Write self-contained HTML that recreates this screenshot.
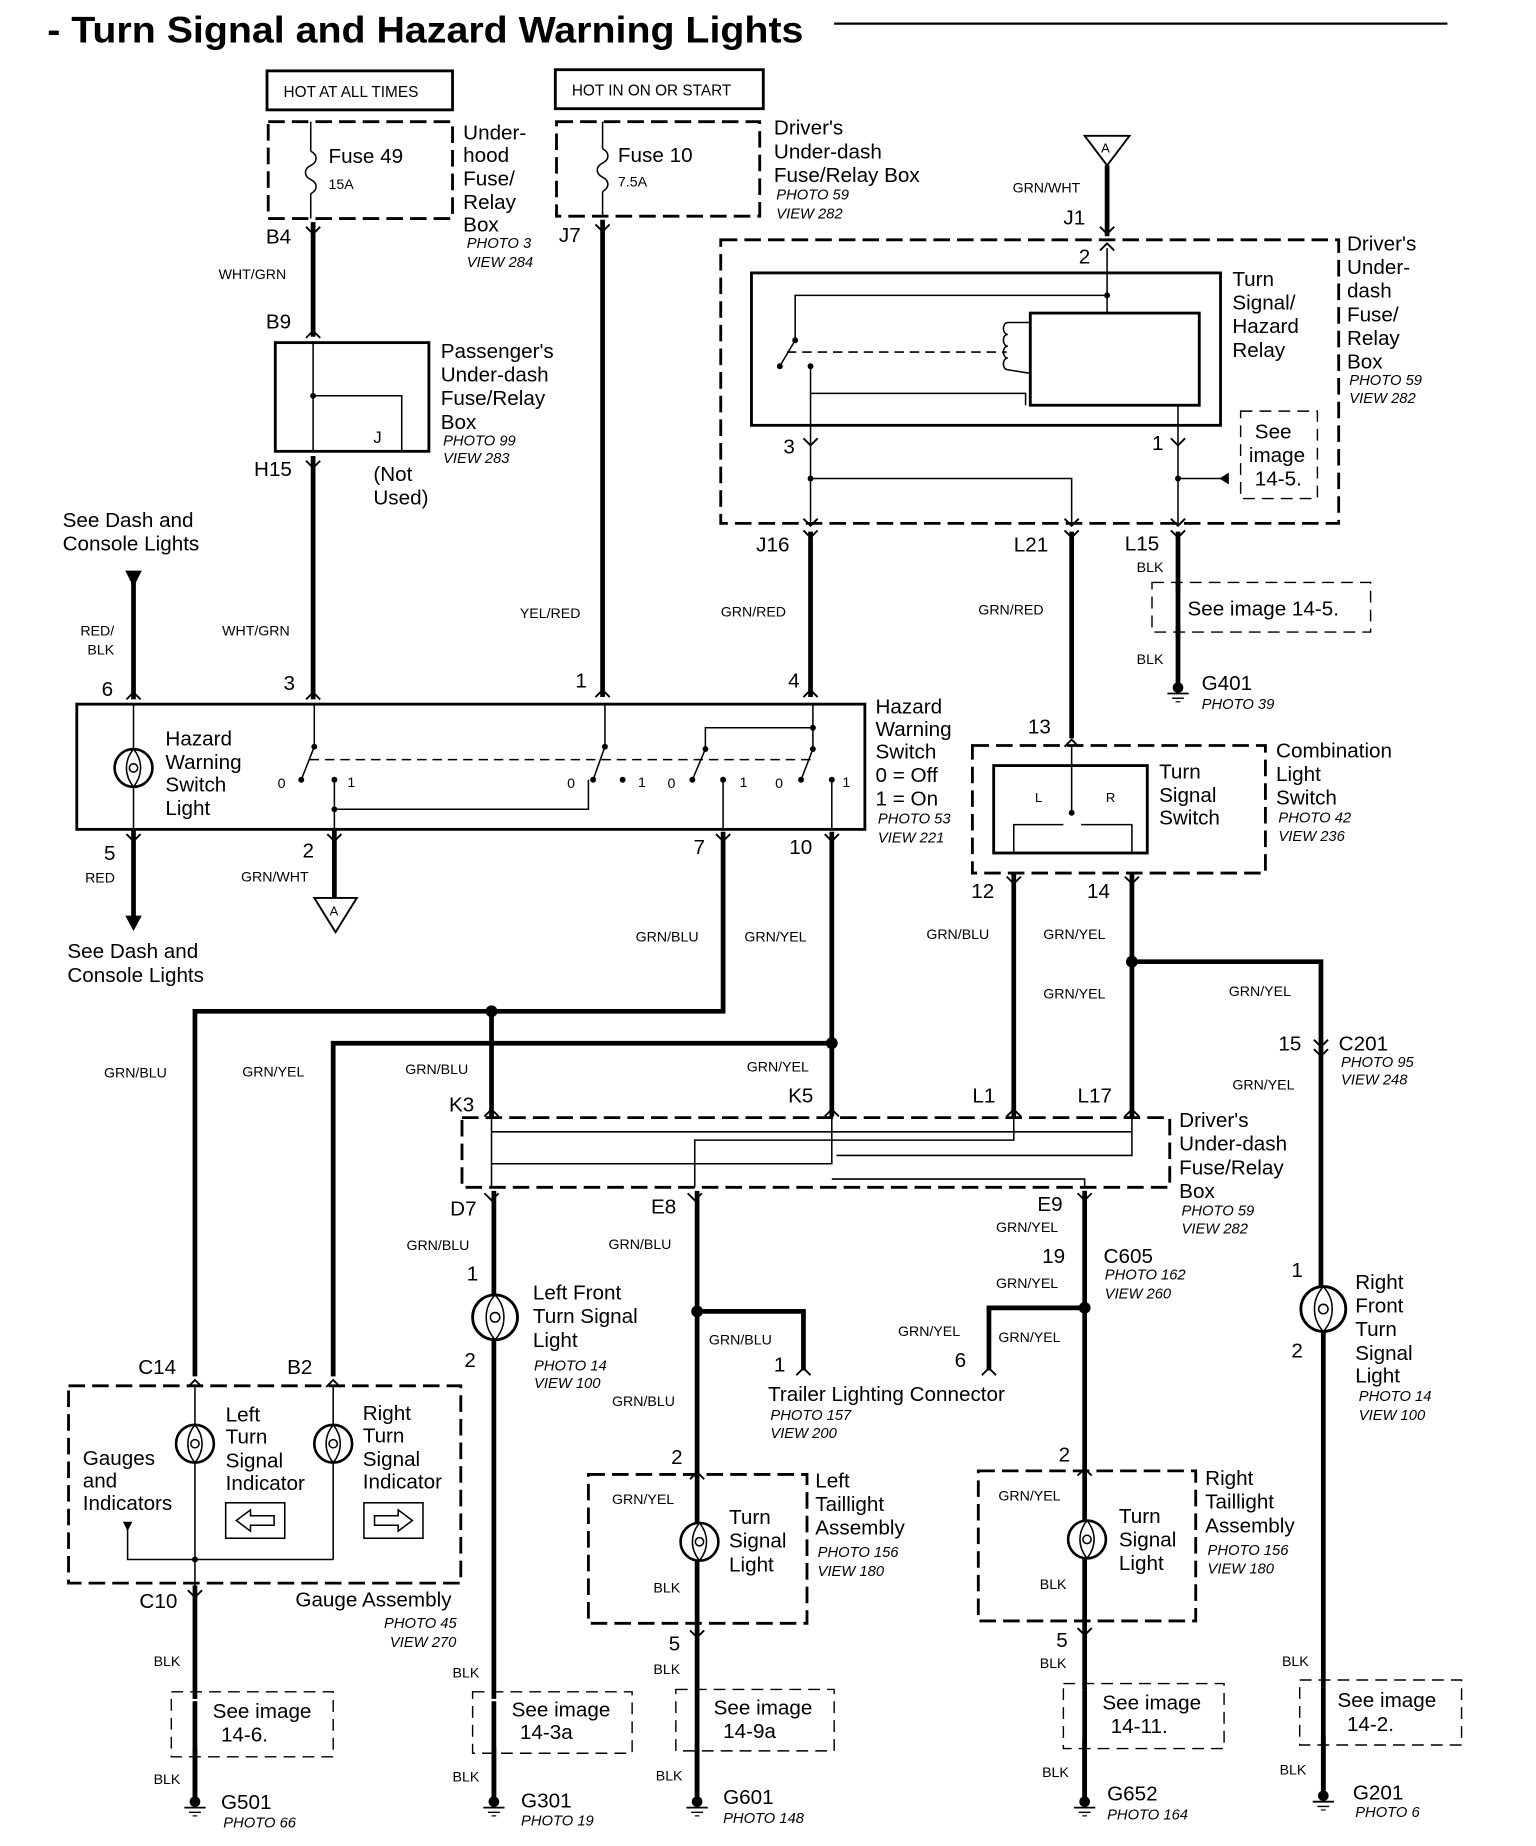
<!DOCTYPE html>
<html><head><meta charset="utf-8"><style>
html,body{margin:0;padding:0;background:#fff}
svg{display:block}
text{font-family:"Liberation Sans",sans-serif;fill:#000}
.b{font-size:17.5px}
.s{font-size:12px}
.p{font-size:12.5px;font-style:italic}
.w{stroke:#000;stroke-width:4;fill:none}
.t{stroke:#000;stroke-width:1.3;fill:none}
.d{stroke:#000;stroke-width:2.4;fill:none;stroke-dasharray:14 6}
.dt{stroke:#000;stroke-width:1.2;fill:none;stroke-dasharray:10 6}
.r{stroke:#000;stroke-width:2.4;fill:none}
</style></head><body>
<svg width="1536" height="1846" viewBox="0 0 1300 1562.5" preserveAspectRatio="none" xmlns="http://www.w3.org/2000/svg">
<defs>
<g id="gnd"><circle cx="0" cy="0" r="4.5" fill="#000"/><line x1="-9" y1="5" x2="9" y2="5" stroke="#000" stroke-width="1.5"/><line x1="-5" y1="9" x2="5" y2="9" stroke="#000" stroke-width="1.2"/><line x1="-2" y1="12" x2="2" y2="12" stroke="#000" stroke-width="1"/></g>
<g id="lamp"><circle cx="0" cy="0" r="19" fill="#fff" stroke="#000" stroke-width="2.4"/><path d="M0,-19 C-10,-8 -10,8 0,19 M0,-19 C10,-8 10,8 0,19" class="t"/><circle cx="0" cy="0" r="4" class="t"/></g>
<g id="slamp"><circle cx="0" cy="0" r="16" fill="#fff" stroke="#000" stroke-width="2.2"/><path d="M0,-16 C-8,-6 -8,6 0,16 M0,-16 C8,-6 8,6 0,16" class="t"/><circle cx="0" cy="0" r="3.5" class="t"/></g>
<path id="up" d="M-6,6 L0,0 L6,6" stroke="#000" stroke-width="1.6" fill="none"/>
<path id="dn" d="M-6,-6 L0,0 L6,-6" stroke="#000" stroke-width="1.6" fill="none"/>
</defs>

<!-- title -->
<text x="40" y="36" textLength="640" lengthAdjust="spacingAndGlyphs" style="font-size:31px;font-weight:bold">- Turn Signal and Hazard Warning Lights</text>
<line x1="706" y1="20" x2="1225" y2="20" stroke="#000" stroke-width="2"/>

<!-- HOT boxes -->
<rect x="226" y="60" width="157" height="33" class="r" stroke-width="2"/>
<text x="240" y="82" style="font-size:13px">HOT AT ALL TIMES</text>
<rect x="470" y="59" width="176" height="33" class="r" stroke-width="2"/>
<text x="484" y="81" style="font-size:13px">HOT IN ON OR START</text>

<!-- fuse 49 -->
<rect x="227" y="103" width="156" height="82" class="d"/>
<line x1="263" y1="103" x2="263" y2="128" class="t"/>
<path d="M263,128 c6,3 6,9 0,12 c-6,3 -6,9 0,12 c6,3 6,9 0,12" class="t"/>
<line x1="263" y1="164" x2="263" y2="185" class="t"/>
<text x="278" y="138" class="b">Fuse  49</text>
<text x="278" y="160" class="s">15A</text>
<text x="392" y="118" class="b">Under-</text><text x="392" y="137" class="b">hood</text><text x="392" y="157" class="b">Fuse/</text><text x="392" y="177" class="b">Relay</text><text x="392" y="196" class="b">Box</text>
<text x="395" y="210" class="p">PHOTO 3</text><text x="395" y="226" class="p">VIEW 284</text>
<text x="225" y="206" class="b">B4</text>
<line x1="265" y1="188" x2="265" y2="285" class="w"/>
<use href="#dn" x="265" y="198"/><use href="#up" x="265" y="280"/>
<text x="185" y="236" class="s">WHT/GRN</text>
<text x="225" y="278" class="b">B9</text>

<!-- passenger box -->
<rect x="233" y="290" width="130" height="92" class="r"/>
<line x1="265" y1="290" x2="265" y2="382" class="t"/>
<polyline points="265,335 340,335 340,382" class="t"/>
<circle cx="265" cy="335" r="2.5"/>
<text x="316" y="375" style="font-size:14px">J</text>
<text x="373" y="303" class="b">Passenger's</text><text x="373" y="323" class="b">Under-dash</text><text x="373" y="343" class="b">Fuse/Relay</text><text x="373" y="363" class="b">Box</text>
<text x="375" y="377" class="p">PHOTO 99</text><text x="375" y="392" class="p">VIEW 283</text>
<text x="215" y="403" class="b">H15</text>
<text x="316" y="407" class="b">(Not</text><text x="316" y="427" class="b">Used)</text>
<line x1="265" y1="386" x2="265" y2="592" class="w"/>
<use href="#dn" x="265" y="396"/><use href="#up" x="265" y="586"/>
<text x="188" y="538" class="s">WHT/GRN</text>
<text x="240" y="584" class="b">3</text>

<!-- dash lights top -->
<text x="53" y="446" class="b">See Dash and</text><text x="53" y="466" class="b">Console Lights</text>
<path d="M106,483 L120,483 L113,497 Z"/>
<line x1="113" y1="490" x2="113" y2="592" class="w"/>
<use href="#up" x="113" y="586"/>
<text x="68" y="538" class="s">RED/</text><text x="74" y="554" class="s">BLK</text>
<text x="86" y="589" class="b">6</text>

<!-- fuse 10 -->
<rect x="471" y="103" width="172" height="80" class="d"/>
<line x1="510" y1="103" x2="510" y2="126" class="t"/>
<path d="M510,126 c6,3 6,9 0,12 c-6,3 -6,9 0,12 c6,3 6,9 0,12" class="t"/>
<line x1="510" y1="162" x2="510" y2="183" class="t"/>
<text x="523" y="137" class="b">Fuse 10</text>
<text x="523" y="158" class="s">7.5A</text>
<text x="655" y="114" class="b">Driver's</text><text x="655" y="134" class="b">Under-dash</text><text x="655" y="154" class="b">Fuse/Relay Box</text>
<text x="657" y="169" class="p">PHOTO 59</text><text x="657" y="185" class="p">VIEW 282</text>
<text x="473" y="205" class="b">J7</text>
<line x1="510" y1="186" x2="510" y2="590" class="w"/>
<use href="#dn" x="510" y="196"/><use href="#up" x="510" y="584"/>
<text x="440" y="523" class="s">YEL/RED</text>
<text x="487" y="582" class="b">1</text>

<!-- A triangle top -->
<path d="M918,115 L956,115 L937,140 Z" fill="#fff" stroke="#000" stroke-width="1.6"/>
<text x="932" y="129" style="font-size:11px">A</text>
<text x="857" y="163" class="s">GRN/WHT</text>
<text x="900" y="190" class="b">J1</text>
<line x1="937" y1="140" x2="937" y2="200" class="w"/>
<use href="#dn" x="937" y="198"/><use href="#up" x="937" y="206"/>
<text x="913" y="223" class="b">2</text>

<!-- driver's box 1 -->
<rect x="610" y="203" width="523" height="240" class="d"/>
<text x="1140" y="212" class="b">Driver's</text><text x="1140" y="232" class="b">Under-</text><text x="1140" y="252" class="b">dash</text><text x="1140" y="272" class="b">Fuse/</text><text x="1140" y="292" class="b">Relay</text><text x="1140" y="312" class="b">Box</text>
<text x="1142" y="326" class="p">PHOTO 59</text><text x="1142" y="341" class="p">VIEW 282</text>
<rect x="636" y="231" width="397" height="129" class="r"/>
<line x1="937" y1="210" x2="937" y2="265" class="t"/>
<rect x="872" y="265" width="143" height="78" class="r"/>
<polyline points="937,250 673,250 673,288" class="t"/><circle cx="937" cy="250" r="2.5"/>
<line x1="673" y1="288" x2="660" y2="310" class="t"/><circle cx="673" cy="288" r="2.5"/><circle cx="660" cy="310" r="2.5"/>
<line x1="666" y1="298" x2="852" y2="298" class="t" stroke-dasharray="8 5"/>
<path d="M872,273 L853,273 c-5,0 -5,10 0,10 c-5,0 -5,10 0,10 c-5,0 -5,10 0,10 c-5,0 -5,10 0,10 L872,316" class="t"/>
<polyline points="686,310 686,385" class="t"/><circle cx="686" cy="310" r="2.5"/>
<polyline points="686,333 868,333 868,343" class="t"/>
<line x1="997" y1="343" x2="997" y2="385" class="t"/>
<text x="1043" y="242" class="b">Turn</text><text x="1043" y="262" class="b">Signal/</text><text x="1043" y="282" class="b">Hazard</text><text x="1043" y="302" class="b">Relay</text>
<text x="663" y="384" class="b">3</text><text x="975" y="381" class="b">1</text>
<use href="#dn" x="686" y="377"/><use href="#dn" x="997" y="377"/>
<line x1="686" y1="385" x2="686" y2="445" class="t"/>
<line x1="997" y1="385" x2="997" y2="445" class="t"/>
<polyline points="686,405 907,405 907,445" class="t"/><circle cx="686" cy="405" r="2.5"/>
<line x1="997" y1="405" x2="1040" y2="405" class="t"/><circle cx="997" cy="405" r="2.5"/>
<path d="M1040,400 L1032,405 L1040,410Z"/>
<rect x="1050" y="348" width="65" height="74" class="dt"/>
<text x="1062" y="371" class="b">See</text><text x="1057" y="391" class="b">image</text><text x="1062" y="411" class="b">14-5.</text>
<use href="#dn" x="686" y="445"/><use href="#dn" x="907" y="445"/><use href="#dn" x="997" y="445"/>
<use href="#dn" x="686" y="455"/><use href="#dn" x="907" y="455"/><use href="#dn" x="997" y="455"/>
<text x="640" y="467" class="b">J16</text><text x="858" y="467" class="b">L21</text><text x="952" y="466" class="b">L15</text>
<line x1="686" y1="450" x2="686" y2="590" class="w"/>
<line x1="907" y1="450" x2="907" y2="625" class="w"/>
<line x1="997" y1="450" x2="997" y2="580" class="w"/>
<use href="#up" x="686" y="584"/><use href="#up" x="907" y="626"/>
<text x="610" y="522" class="s">GRN/RED</text><text x="828" y="520" class="s">GRN/RED</text>
<text x="962" y="484" class="s">BLK</text>
<rect x="975" y="493" width="185" height="42" class="dt"/>
<rect x="990" y="500" width="160" height="30" fill="#fff"/>
<line x1="997" y1="493" x2="997" y2="540" class="w"/>
<text x="1005" y="521" class="b">See image 14-5.</text>
<text x="962" y="562" class="s">BLK</text>
<use href="#gnd" x="997" y="582"/>
<text x="1017" y="584" class="b">G401</text><text x="1017" y="600" class="p">PHOTO 39</text>
<text x="667" y="582" class="b">4</text>

<!-- hazard switch -->
<rect x="65" y="596" width="667" height="106" class="r"/>
<line x1="113" y1="596" x2="113" y2="702" class="t"/>
<use href="#slamp" x="113" y="650"/>
<text x="140" y="631" class="b">Hazard</text><text x="140" y="651" class="b">Warning</text><text x="140" y="670" class="b">Switch</text><text x="140" y="690" class="b">Light</text>
<line x1="262" y1="643" x2="690" y2="643" class="t" stroke-dasharray="8 5"/>
<polyline points="266,596 266,632 255,660" class="t"/><circle cx="266" cy="632" r="2.5"/><circle cx="255" cy="660" r="2.5"/><circle cx="283" cy="660" r="2.5"/>
<text x="235" y="667" class="s">0</text><text x="294" y="666" class="s">1</text>
<polyline points="283,660 283,702" class="t"/>
<polyline points="283,685 498,685 498,660" class="t"/><circle cx="283" cy="685" r="2.5"/>
<polyline points="512,596 512,632 502,660" class="t"/><circle cx="512" cy="632" r="2.5"/><circle cx="502" cy="660" r="2.5"/><circle cx="527" cy="660" r="2.5"/>
<text x="480" y="667" class="s">0</text><text x="540" y="666" class="s">1</text>
<polyline points="688,596 688,616 597,616 597,634 586,660" class="t"/><circle cx="688" cy="616" r="2.5"/><circle cx="597" cy="634" r="2.5"/><circle cx="586" cy="660" r="2.5"/>
<polyline points="688,616 688,634 678,660" class="t"/><circle cx="688" cy="634" r="2.5"/><circle cx="678" cy="660" r="2.5"/>
<text x="565" y="667" class="s">0</text><text x="626" y="666" class="s">1</text>
<text x="656" y="667" class="s">0</text><text x="713" y="666" class="s">1</text>
<polyline points="612,660 612,702" class="t"/><circle cx="612" cy="660" r="2.5"/>
<polyline points="704,660 704,702" class="t"/><circle cx="704" cy="660" r="2.5"/>
<text x="741" y="604" class="b">Hazard</text><text x="741" y="623" class="b">Warning</text><text x="741" y="642" class="b">Switch</text><text x="741" y="662" class="b">0 = Off</text><text x="741" y="682" class="b">1 = On</text>
<text x="743" y="697" class="p">PHOTO 53</text><text x="743" y="713" class="p">VIEW 221</text>

<!-- below hazard -->
<text x="88" y="728" class="b">5</text><text x="72" y="747" class="s">RED</text>
<line x1="113" y1="702" x2="113" y2="778" class="w"/><use href="#dn" x="113" y="712"/>
<path d="M106,775 L120,775 L113,788 Z"/>
<text x="57" y="811" class="b">See Dash and</text><text x="57" y="831" class="b">Console Lights</text>
<text x="256" y="726" class="b">2</text><text x="204" y="746" class="s">GRN/WHT</text>
<line x1="283" y1="702" x2="283" y2="760" class="w"/><use href="#dn" x="283" y="712"/>
<path d="M266,760 L302,760 L284,789 Z" fill="#fff" stroke="#000" stroke-width="1.6"/>
<text x="279" y="775" style="font-size:11px">A</text>
<text x="587" y="723" class="b">7</text><text x="668" y="723" class="b">10</text>
<use href="#dn" x="612" y="712"/><use href="#dn" x="704" y="712"/>
<polyline points="612,704 612,856 165,856 165,1165" class="w"/>
<circle cx="416" cy="856" r="5"/>
<line x1="416" y1="856" x2="416" y2="945" class="w"/>
<polyline points="704,704 704,945" class="w"/>
<polyline points="704,883 282,883 282,1165" class="w"/>
<circle cx="704" cy="883" r="5"/>
<text x="538" y="797" class="s">GRN/BLU</text><text x="630" y="797" class="s">GRN/YEL</text>
<text x="88" y="912" class="s">GRN/BLU</text><text x="205" y="911" class="s">GRN/YEL</text>
<text x="343" y="909" class="s">GRN/BLU</text><text x="632" y="907" class="s">GRN/YEL</text>
<text x="380" y="941" class="b">K3</text><text x="667" y="933" class="b">K5</text>
<use href="#up" x="416" y="939"/><use href="#up" x="704" y="939"/>

<!-- combination switch -->
<text x="870" y="621" class="b">13</text>
<rect x="823" y="631" width="248" height="108" class="d"/>
<rect x="841" y="648" width="130" height="74" class="r"/>
<line x1="907" y1="631" x2="907" y2="688" class="t"/><circle cx="907" cy="688" r="2.5"/>
<polyline points="858,722 858,698 900,698" class="t"/><polyline points="958,722 958,698 915,698" class="t"/>
<text x="876" y="679" style="font-size:11px">L</text><text x="936" y="679" style="font-size:11px">R</text>
<text x="981" y="659" class="b">Turn</text><text x="981" y="679" class="b">Signal</text><text x="981" y="698" class="b">Switch</text>
<text x="1080" y="641" class="b">Combination</text><text x="1080" y="661" class="b">Light</text><text x="1080" y="681" class="b">Switch</text>
<text x="1082" y="696" class="p">PHOTO 42</text><text x="1082" y="712" class="p">VIEW 236</text>
<text x="822" y="760" class="b">12</text><text x="920" y="760" class="b">14</text>
<use href="#dn" x="858" y="748"/><use href="#dn" x="958" y="748"/>
<line x1="858" y1="740" x2="858" y2="945" class="w"/>
<line x1="958" y1="740" x2="958" y2="945" class="w"/>
<use href="#up" x="858" y="939"/><use href="#up" x="958" y="939"/>
<circle cx="958" cy="814" r="5"/>
<polyline points="958,814 1118,814 1118,1090" class="w"/>
<text x="784" y="795" class="s">GRN/BLU</text><text x="883" y="795" class="s">GRN/YEL</text>
<text x="883" y="845" class="s">GRN/YEL</text><text x="1040" y="843" class="s">GRN/YEL</text>
<text x="1082" y="889" class="b">15</text><text x="1133" y="889" class="b">C201</text>
<text x="1135" y="903" class="p">PHOTO 95</text><text x="1135" y="918" class="p">VIEW 248</text>
<text x="1043" y="922" class="s">GRN/YEL</text>
<use href="#dn" x="1118" y="886"/><use href="#dn" x="1118" y="894"/>
<text x="823" y="933" class="b">L1</text><text x="912" y="933" class="b">L17</text>

<!-- driver's box 2 -->
<rect x="391" y="946" width="599" height="59" class="d"/>
<line x1="416" y1="946" x2="416" y2="1005" class="t"/>
<polyline points="704,946 704,985 416,985" class="t"/>
<polyline points="858,946 858,965 588,965 588,1005" class="t"/>
<polyline points="958,946 958,978 708,978" class="t"/>
<polyline points="416,958 958,958" class="t"/>
<polyline points="704,998 918,998 918,1005" class="t"/>
<text x="998" y="954" class="b">Driver's</text><text x="998" y="974" class="b">Under-dash</text><text x="998" y="994" class="b">Fuse/Relay</text><text x="998" y="1014" class="b">Box</text>
<text x="1000" y="1029" class="p">PHOTO 59</text><text x="1000" y="1044" class="p">VIEW 282</text>
<text x="381" y="1029" class="b">D7</text><text x="551" y="1027" class="b">E8</text><text x="878" y="1025" class="b">E9</text>
<use href="#dn" x="416" y="1016"/><use href="#dn" x="588" y="1016"/><use href="#dn" x="918" y="1016"/>

<!-- left front -->
<line x1="418" y1="1008" x2="418" y2="1525" class="w"/>
<use href="#lamp" x="419" y="1115"/>
<text x="344" y="1058" class="s">GRN/BLU</text>
<text x="395" y="1084" class="b">1</text><text x="393" y="1157" class="b">2</text>
<text x="451" y="1100" class="b">Left Front</text><text x="451" y="1120" class="b">Turn Signal</text><text x="451" y="1140" class="b">Light</text>
<text x="452" y="1160" class="p">PHOTO 14</text><text x="452" y="1175" class="p">VIEW 100</text>
<text x="383" y="1420" class="s">BLK</text>
<rect x="400" y="1432" width="135" height="52" class="dt"/>
<rect x="410" y="1438" width="118" height="40" fill="#fff"/>
<line x1="418" y1="1440" x2="418" y2="1520" class="w"/>
<text x="433" y="1453" class="b">See image</text><text x="440" y="1472" class="b">14-3a</text>
<text x="383" y="1508" class="s">BLK</text>
<use href="#gnd" x="418" y="1525"/>
<text x="441" y="1530" class="b">G301</text><text x="441" y="1545" class="p">PHOTO 19</text>

<!-- E8 line -->
<line x1="590" y1="1008" x2="590" y2="1525" class="w"/>
<circle cx="590" cy="1110" r="5"/>
<polyline points="590,1110 680,1110 680,1160" class="w"/>
<use href="#up" x="680" y="1158"/>
<text x="515" y="1057" class="s">GRN/BLU</text><text x="600" y="1138" class="s">GRN/BLU</text>
<text x="655" y="1161" class="b">1</text>
<text x="518" y="1190" class="s">GRN/BLU</text>
<text x="650" y="1186" class="b">Trailer Lighting Connector</text>
<text x="652" y="1202" class="p">PHOTO 157</text><text x="652" y="1217" class="p">VIEW 200</text>

<!-- E9 line -->
<line x1="918" y1="1008" x2="918" y2="1525" class="w"/>
<circle cx="918" cy="1107" r="5"/>
<polyline points="918,1107 837,1107 837,1160" class="w"/>
<use href="#up" x="837" y="1158"/>
<text x="843" y="1043" class="s">GRN/YEL</text>
<text x="882" y="1069" class="b">19</text><text x="934" y="1069" class="b">C605</text>
<text x="935" y="1083" class="p">PHOTO 162</text><text x="935" y="1099" class="p">VIEW 260</text>
<text x="843" y="1090" class="s">GRN/YEL</text>
<text x="760" y="1131" class="s">GRN/YEL</text><text x="808" y="1157" class="b">6</text>
<text x="845" y="1136" class="s">GRN/YEL</text>

<!-- gauge assembly -->
<text x="117" y="1163" class="b">C14</text><text x="243" y="1163" class="b">B2</text>
<rect x="58" y="1173" width="332" height="167" class="d"/>
<use href="#up" x="165" y="1168"/><use href="#up" x="282" y="1168"/>
<line x1="165" y1="1173" x2="165" y2="1345" class="t"/>
<line x1="282" y1="1173" x2="282" y2="1320" class="t"/>
<use href="#slamp" x="165" y="1222"/><use href="#slamp" x="282" y="1222"/>
<polyline points="108,1290 108,1320 282,1320" class="t"/><circle cx="165" cy="1320" r="2.5"/>
<path d="M104,1288 L112,1288 L108,1296Z"/>
<text x="191" y="1203" class="b">Left</text><text x="191" y="1222" class="b">Turn</text><text x="191" y="1242" class="b">Signal</text><text x="191" y="1261" class="b">Indicator</text>
<text x="307" y="1202" class="b">Right</text><text x="307" y="1221" class="b">Turn</text><text x="307" y="1241" class="b">Signal</text><text x="307" y="1260" class="b">Indicator</text>
<text x="70" y="1240" class="b">Gauges</text><text x="70" y="1259" class="b">and</text><text x="70" y="1278" class="b">Indicators</text>
<rect x="191" y="1272" width="50" height="30" class="t"/>
<path d="M200,1287 L212,1278 L212,1283 L232,1283 L232,1291 L212,1291 L212,1296 Z" class="t"/>
<rect x="308" y="1272" width="50" height="30" class="t"/>
<path d="M349,1287 L337,1278 L337,1283 L317,1283 L317,1291 L337,1291 L337,1296 Z" class="t"/>
<text x="118" y="1361" class="b">C10</text>
<text x="250" y="1360" class="b">Gauge Assembly</text>
<text x="325" y="1378" class="p">PHOTO 45</text><text x="330" y="1394" class="p">VIEW 270</text>
<use href="#dn" x="165" y="1352"/>
<line x1="165" y1="1342" x2="165" y2="1525" class="w"/>
<text x="130" y="1410" class="s">BLK</text>
<rect x="145" y="1432" width="137" height="55" class="dt"/>
<rect x="155" y="1438" width="118" height="42" fill="#fff"/>
<line x1="165" y1="1440" x2="165" y2="1520" class="w"/>
<text x="180" y="1454" class="b">See image</text><text x="187" y="1474" class="b">14-6.</text>
<text x="130" y="1510" class="s">BLK</text>
<use href="#gnd" x="165" y="1525"/>
<text x="187" y="1531" class="b">G501</text><text x="189" y="1547" class="p">PHOTO 66</text>

<!-- left taillight -->
<text x="568" y="1239" class="b">2</text>
<rect x="498" y="1248" width="185" height="126" class="d"/>
<use href="#up" x="590" y="1246"/>
<use href="#slamp" x="592" y="1305"/>
<text x="617" y="1290" class="b">Turn</text><text x="617" y="1310" class="b">Signal</text><text x="617" y="1330" class="b">Light</text>
<text x="518" y="1273" class="s">GRN/YEL</text><text x="553" y="1348" class="s">BLK</text>
<text x="690" y="1259" class="b">Left</text><text x="690" y="1279" class="b">Taillight</text><text x="690" y="1299" class="b">Assembly</text>
<text x="692" y="1318" class="p">PHOTO 156</text><text x="692" y="1334" class="p">VIEW 180</text>
<text x="566" y="1397" class="b">5</text><use href="#dn" x="590" y="1386"/>
<text x="553" y="1417" class="s">BLK</text>
<rect x="572" y="1430" width="134" height="52" class="dt"/>
<rect x="582" y="1436" width="116" height="40" fill="#fff"/>
<line x1="590" y1="1436" x2="590" y2="1520" class="w"/>
<text x="604" y="1451" class="b">See image</text><text x="612" y="1471" class="b">14-9a</text>
<text x="555" y="1507" class="s">BLK</text>
<use href="#gnd" x="590" y="1525"/>
<text x="612" y="1527" class="b">G601</text><text x="612" y="1543" class="p">PHOTO 148</text>

<!-- right taillight -->
<text x="896" y="1237" class="b">2</text>
<rect x="828" y="1245" width="184" height="127" class="d"/>
<use href="#up" x="918" y="1243"/>
<use href="#slamp" x="920" y="1303"/>
<text x="947" y="1289" class="b">Turn</text><text x="947" y="1309" class="b">Signal</text><text x="947" y="1329" class="b">Light</text>
<text x="845" y="1270" class="s">GRN/YEL</text><text x="880" y="1345" class="s">BLK</text>
<text x="1020" y="1257" class="b">Right</text><text x="1020" y="1277" class="b">Taillight</text><text x="1020" y="1297" class="b">Assembly</text>
<text x="1022" y="1316" class="p">PHOTO 156</text><text x="1022" y="1332" class="p">VIEW 180</text>
<text x="894" y="1394" class="b">5</text><use href="#dn" x="918" y="1384"/>
<text x="880" y="1412" class="s">BLK</text>
<rect x="900" y="1425" width="136" height="55" class="dt"/>
<rect x="910" y="1431" width="118" height="42" fill="#fff"/>
<line x1="918" y1="1431" x2="918" y2="1520" class="w"/>
<text x="933" y="1447" class="b">See image</text><text x="940" y="1467" class="b">14-11.</text>
<text x="882" y="1504" class="s">BLK</text>
<use href="#gnd" x="918" y="1525"/>
<text x="937" y="1524" class="b">G652</text><text x="937" y="1540" class="p">PHOTO 164</text>

<!-- right front -->
<use href="#lamp" x="1120" y="1108"/>
<line x1="1120" y1="1128" x2="1120" y2="1520" class="w"/>
<text x="1093" y="1081" class="b">1</text><text x="1093" y="1149" class="b">2</text>
<text x="1147" y="1091" class="b">Right</text><text x="1147" y="1111" class="b">Front</text><text x="1147" y="1131" class="b">Turn</text><text x="1147" y="1151" class="b">Signal</text><text x="1147" y="1170" class="b">Light</text>
<text x="1150" y="1186" class="p">PHOTO 14</text><text x="1150" y="1202" class="p">VIEW 100</text>
<text x="1085" y="1410" class="s">BLK</text>
<rect x="1100" y="1422" width="137" height="55" class="dt"/>
<rect x="1110" y="1428" width="118" height="42" fill="#fff"/>
<line x1="1120" y1="1428" x2="1120" y2="1515" class="w"/>
<text x="1132" y="1445" class="b">See image</text><text x="1140" y="1465" class="b">14-2.</text>
<text x="1083" y="1502" class="s">BLK</text>
<use href="#gnd" x="1120" y="1520"/>
<text x="1145" y="1523" class="b">G201</text><text x="1147" y="1538" class="p">PHOTO 6</text>
</svg>
</body></html>
